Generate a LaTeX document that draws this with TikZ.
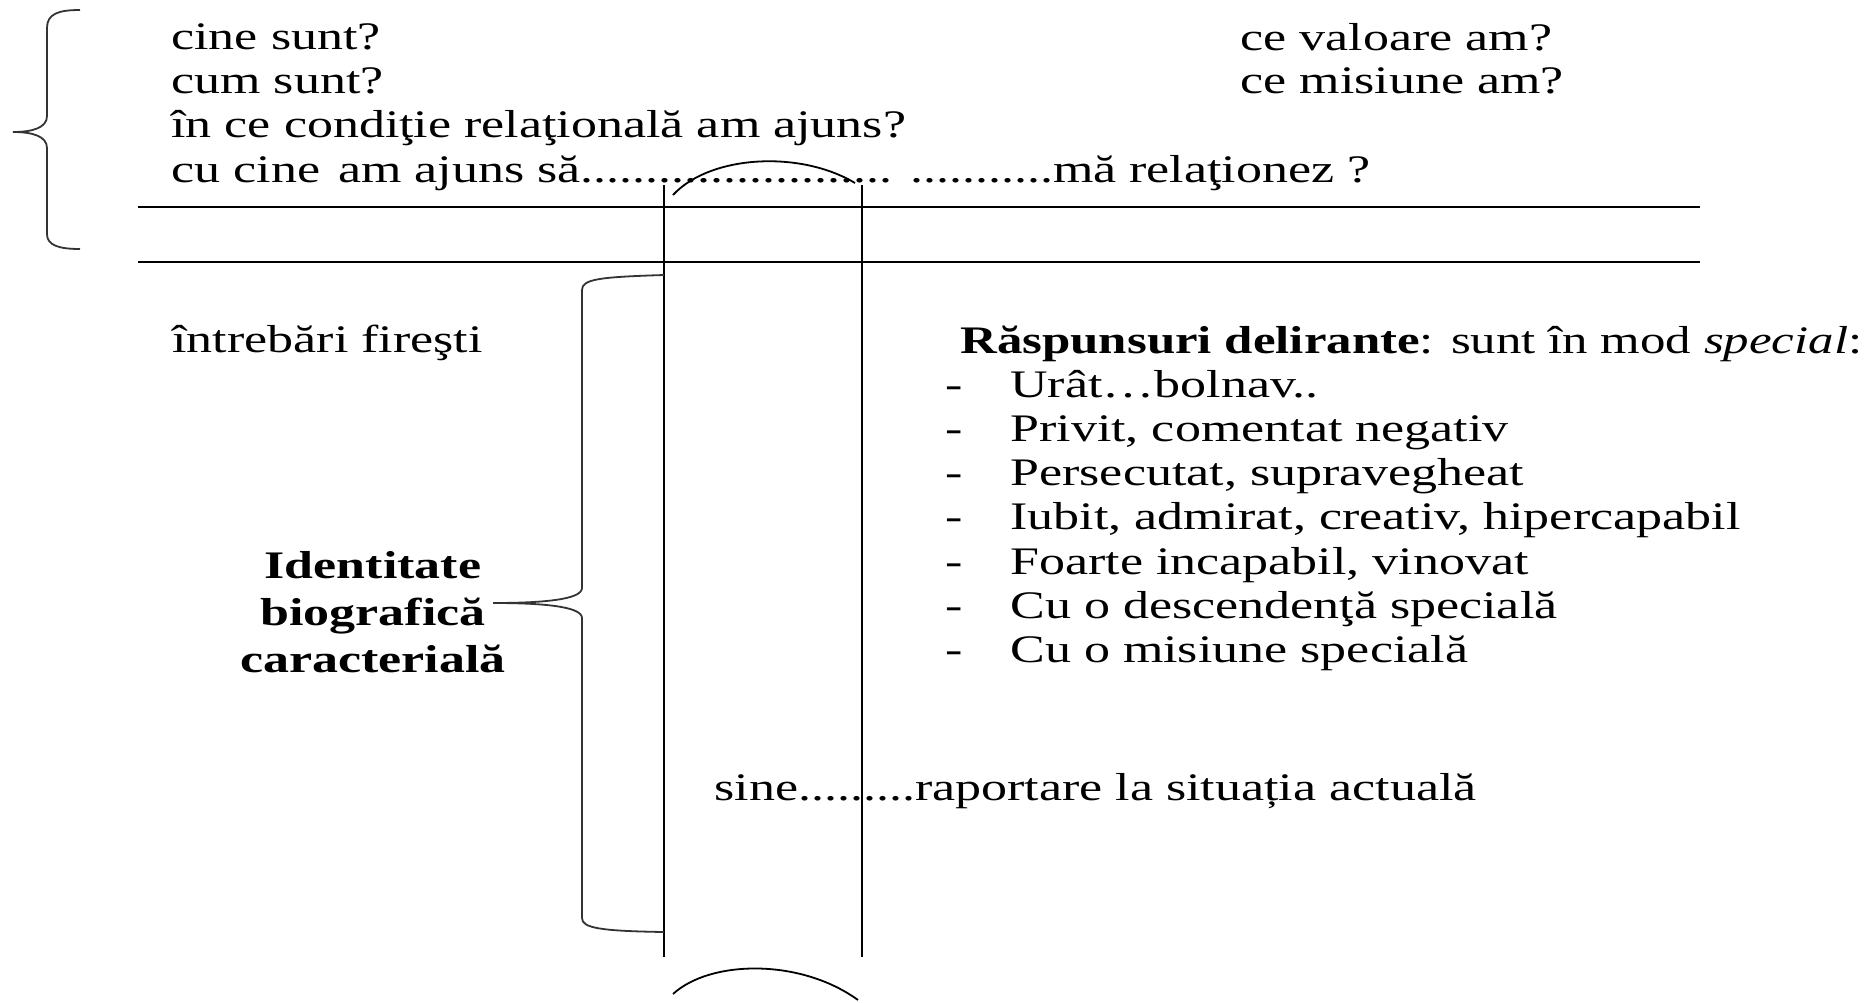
\documentclass[tikz,border=0pt]{standalone}
\usepackage{fontspec}
\setmainfont{Liberation Serif}
\usepackage{graphicx}
\newcommand{\sx}[1]{\scalebox{1.333}[1]{#1}}
\begin{document}
\begin{tikzpicture}[x=0.5pt,y=-0.5pt,
  txt/.style={inner sep=0pt, anchor=base west, font=\fontsize{19.5}{23}\selectfont},
  lbl/.style={inner sep=0pt, anchor=base, font=\bfseries\fontsize{19.5}{23}\selectfont},
  ln/.style={line width=0.9pt, black},
  brace/.style={line width=0.9pt, black!80}]
\useasboundingbox (0,0) rectangle (1875,1002);

% top questions
\node[txt] (q1) at (171,49) {\sx{cine sunt?}};
\node[txt] (q2) at (171,93) {\sx{cum sunt?}};
\node[txt] (q3) at (171,137) {\sx{în ce condiţie relaţională am ajuns?}};
\node[txt] (q4) at (171,182) {\sx{cu cine\hspace{0.1em} am ajuns să........................ ...........mă relaţionez ?}};
\node[txt] (v1) at (1240,50) {\sx{ce valoare am?}};
\node[txt] (v2) at (1240,93) {\sx{ce misiune am?}};

% left brace
\draw[brace] (80,10) .. controls (58,10) and (47,14) .. (47,28) -- (47,116)
  .. controls (47,128) and (32,132) .. (13,132)
  .. controls (32,132) and (47,136) .. (47,148) -- (47,234)
  .. controls (47,245) and (58,249) .. (80,249);

% horizontal lines
\coordinate (h1a) at (138,207); \coordinate (h1b) at (1700,207);
\coordinate (h2a) at (138,262); \coordinate (h2b) at (1700,262);
\draw[ln] (h1a) -- (h1b);
\draw[ln] (h2a) -- (h2b);

% vertical lines
\coordinate (va) at (664,185); \coordinate (vb) at (664,957);
\coordinate (wa) at (862,185); \coordinate (wb) at (862,957);
\draw[ln] (va) -- (vb);
\draw[ln] (wa) -- (wb);

% arcs
\draw[ln] (673,195) .. controls (710,155) and (800,150) .. (855,183);
\draw[ln] (673,994) .. controls (710,960) and (800,958) .. (858,1000);

% middle brace
\draw[brace] (664,275) .. controls (600,277) and (582,279) .. (582,290) -- (582,588)
  .. controls (582,600) and (540,603) .. (493,603)
  .. controls (540,603) and (582,606) .. (582,618) -- (582,918)
  .. controls (582,928) and (600,931) .. (664,932);

% left texts
\node[txt] (nat) at (172,352) {\sx{întrebări fireşti}};
\node[lbl] (id1) at (373,578) {\sx{Identitate}};
\node[lbl] (id2) at (373,625) {\sx{biografică}};
\node[lbl] (id3) at (373,672) {\sx{caracterială}};

% right list
\node[txt] (rh) at (960,353) {\scalebox{1.305}[1]{\textbf{Răspunsuri delirante}: sunt în mod \textit{special}:}};
\foreach \i/\t in {1/{Urât…bolnav..},2/{Privit, comentat negativ},3/{Persecutat, supravegheat},
  4/{Iubit, admirat, creativ, hipercapabil},5/{Foarte incapabil, vinovat},
  6/{Cu o descendenţă specială},7/{Cu o misiune specială}}{
  \node[txt] (d\i) at (945,{353+44.2*\i}) {\sx{-}};
  \node[txt] (r\i) at (1010,{353+44.2*\i}) {\sx{\t}};
}

% bottom line
\node[txt] (sine) at (714,800) {\sx{sine.........raportare la situația actuală}};
\end{tikzpicture}
\end{document}
